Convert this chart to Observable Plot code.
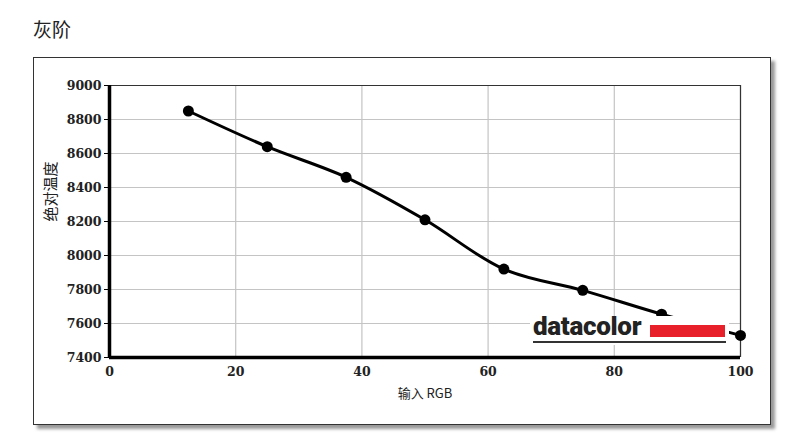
<!DOCTYPE html>
<html>
<head>
<meta charset="utf-8">
<script src="https://cdn.jsdelivr.net/npm/d3@7"></script>
<script src="https://cdn.jsdelivr.net/npm/@observablehq/plot@0.6"></script>
<style>
  html, body { margin: 0; padding: 0; background: #fff; width: 790px; height: 444px; overflow: hidden; }
  #title { position: absolute; left: 33px; top: 15px; font-family: "Noto Sans CJK SC", sans-serif; font-size: 19px; color: #222; }
  #frame { position: absolute; left: 33px; top: 57px; width: 736px; height: 366px; border: 1px solid #333; box-shadow: 4px 4px 3px #9a9a9a; background: #fff; }
  #chart { position: absolute; left: 0; top: 0; }
  #logo { position: absolute; left: 530px; top: 316px; width: 199px; height: 29px; background: #fff; }
  #logo .txt { position: absolute; left: 3px; top: -5px; font-family: Roboto, sans-serif; font-weight: 900; font-size: 26px; color: #222; letter-spacing: -0.3px; }
  #logo .bar { position: absolute; left: 120px; top: 9px; width: 75px; height: 12px; background: #e8202a; }
  #logo .ul { position: absolute; left: 3px; top: 25px; width: 193px; height: 2px; background: #333; }
</style>
</head>
<body>
<div id="title">灰阶</div>
<div id="frame"></div>
<div id="chart"></div>
<div id="logo"><span class="txt">datacolor</span><div class="bar"></div><div class="ul"></div></div>
<script>
const inputRGB = [12.5, 25, 37.5, 50, 62.5, 75, 87.5, 100];
const colorTemp = [8850, 8640, 8460, 8210, 7920, 7795, 7655, 7530];
const xTicks = [0, 20, 40, 60, 80, 100];
const yTicks = [7400, 7600, 7800, 8000, 8200, 8400, 8600, 8800, 9000];
const xLabel = "输入 RGB";
const yLabel = "绝对温度";

const data = inputRGB.map((x, i) => ({x, y: colorTemp[i]}));

const chart = Plot.plot({
  width: 790,
  height: 444,
  marginLeft: 109,
  marginRight: 50,
  marginTop: 85,
  marginBottom: 87,
  style: { background: "transparent", color: "#222", fontFamily: '"DejaVu Serif", serif' },
  x: { domain: [0, 100] },
  y: { domain: [7400, 9000] },
  marks: [
    Plot.gridX(xTicks, { stroke: "#c4c4c4", strokeOpacity: 1, strokeWidth: 1.2 }),
    Plot.gridY(yTicks, { stroke: "#c4c4c4", strokeOpacity: 1, strokeWidth: 1.2 }),
    Plot.ruleY([9000], { stroke: "#333", strokeWidth: 1.2 }),
    Plot.ruleX([100], { stroke: "#333", strokeWidth: 1.2 }),
    Plot.line(data, { x: "x", y: "y", curve: "catmull-rom", stroke: "#000", strokeWidth: 3 }),
    Plot.dot(data, { x: "x", y: "y", r: 5.5, fill: "#000", stroke: "none" }),
    Plot.ruleX([0], { stroke: "#000", strokeWidth: 3.5 }),
    Plot.ruleY([7400], { stroke: "#000", strokeWidth: 3.5 }),
    Plot.axisY(yTicks, { tickSize: 5, tickPadding: 3, tickFormat: d => String(d), fontSize: 12.5, fontWeight: 600, label: null, stroke: "#000" }),
    Plot.axisX(xTicks, { tickSize: 0, tickPadding: 10, fontSize: 12.5, fontWeight: 600, label: null }),
    Plot.text([yLabel], { frameAnchor: "left", dx: -58, dy: 0, rotate: -90, text: d => d, fontSize: 15, fill: "#222", className: "cjk" }),
    Plot.text([xLabel], { frameAnchor: "bottom", dy: 40, text: d => d, fontSize: 13, fill: "#222", className: "cjk" })
  ]
});
document.getElementById("chart").appendChild(chart);
chart.querySelectorAll(".cjk text").forEach(t => t.style.fontFamily = '"Noto Sans CJK SC", "DejaVu Serif", sans-serif');
</script>
</body>
</html>
